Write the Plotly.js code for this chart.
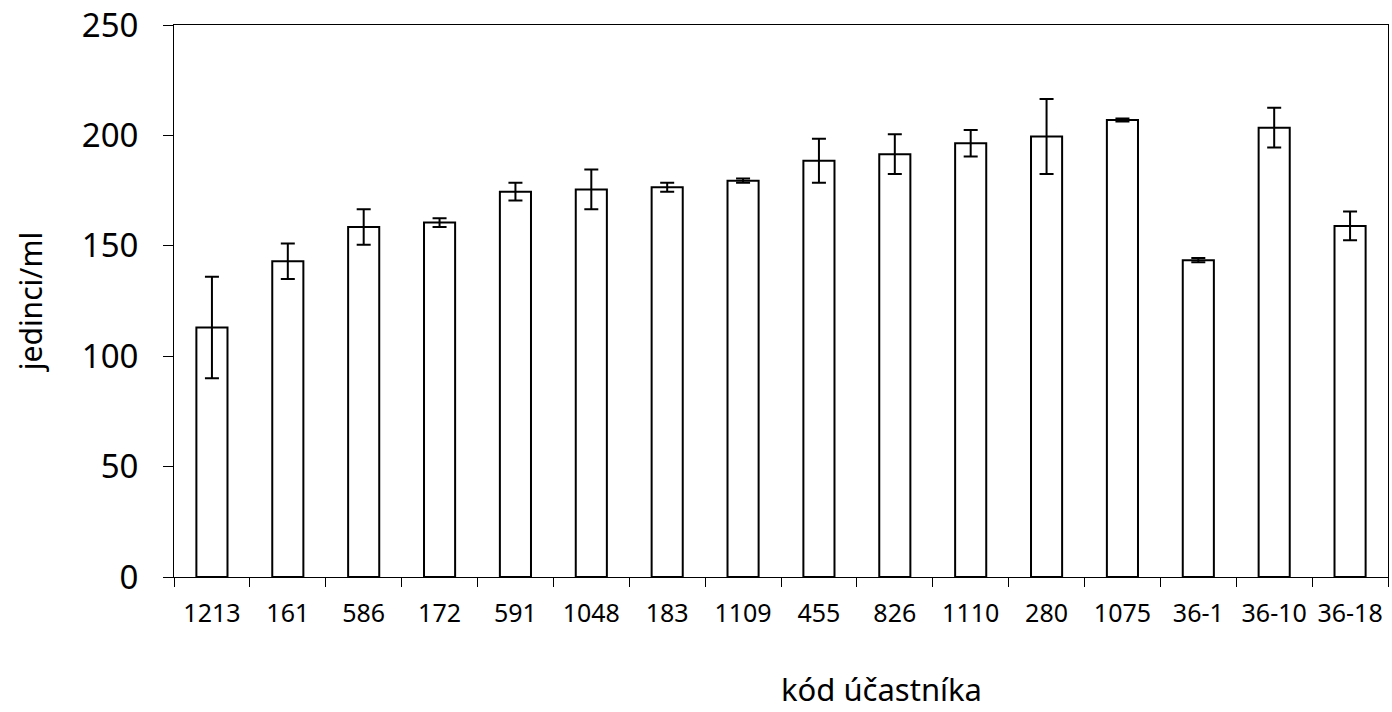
<!DOCTYPE html>
<html>
<head>
<meta charset="utf-8">
<script src="https://cdn.plot.ly/plotly-3.0.1.min.js"></script>
<style>html,body{margin:0;padding:0;background:#fff;}#chart{width:1392px;height:712px;}</style>
</head>
<body>
<div id="chart"></div>
<script>
const categories = ['1213','161','586','172','591','1048','183','1109','455','826','1110','280','1075','36-1','36-10','36-18'];
const values = [113, 143, 158.5, 160.5, 174.5, 175.5, 176.5, 179.5, 188.5, 191.5, 196.5, 199.5, 207, 143.5, 203.5, 159];
const errors = [23, 8, 8, 2, 4, 9, 2, 1, 10, 9, 6, 17, 0.7, 1, 9, 6.5];
const yTicks = [0, 50, 100, 150, 200, 250];
const xTitle = 'kód účastníka';
const yTitle = 'jedinci/ml';

const FONT = 'Noto Sans, DejaVu Sans, sans-serif';

const trace = {
  type: 'bar',
  x: categories,
  y: values,
  width: 0.41,
  marker: {color: '#ffffff', line: {color: '#000000', width: 2}},
  error_y: {type: 'data', array: errors, visible: true, color: '#000000', thickness: 2, width: 7},
  hoverinfo: 'x+y'
};

const layout = {
  width: 1392, height: 712,
  margin: {l: 174, r: 4, t: 25, b: 135},
  paper_bgcolor: '#ffffff', plot_bgcolor: '#ffffff',
  showlegend: false,
  font: {family: FONT, color: '#000000'},
  xaxis: {
    type: 'category',
    showgrid: false, zeroline: false,
    showline: true, linecolor: '#000000', linewidth: 1, mirror: true,
    ticks: 'outside', tickson: 'boundaries', ticklen: 9, tickcolor: '#000000', tickwidth: 1,
    tickfont: {family: FONT, size: 25, color: '#000000'},
    ticklabelstandoff: 14,
    automargin: false
  },
  yaxis: {
    range: [0, 250],
    tickvals: yTicks,
    ticktext: yTicks.map(String),
    showgrid: false, zeroline: false,
    showline: true, linecolor: '#000000', linewidth: 1, mirror: true,
    ticks: 'outside', ticklen: 10, tickcolor: '#000000', tickwidth: 1,
    tickfont: {family: FONT, size: 33, color: '#000000'},
    ticklabelstandoff: 18,
    title: {text: yTitle, font: {family: FONT, size: 30, color: '#000000'}, standoff: 30},
    automargin: false
  },
  annotations: [{
    text: xTitle, xref: 'paper', yref: 'paper', x: 0.583, y: -0.203,
    xanchor: 'center', yanchor: 'middle', showarrow: false,
    font: {family: FONT, size: 31, color: '#000000'}
  }]
};

Plotly.newPlot('chart', [trace], layout, {displayModeBar: false, staticPlot: true});
</script>
</body>
</html>
